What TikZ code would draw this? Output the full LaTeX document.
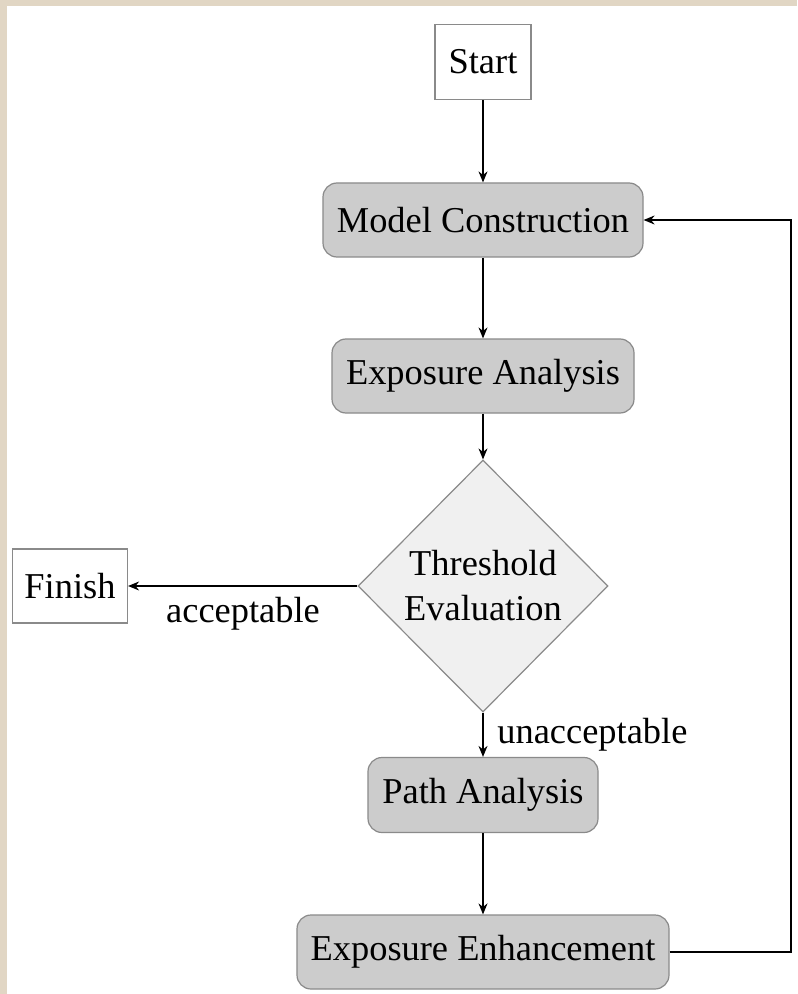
\documentclass[tikz,border=0pt]{standalone}
\usepackage{fontspec}
\setmainfont{Liberation Serif}
\usetikzlibrary{shapes.geometric,arrows.meta}
\definecolor{framebeige}{HTML}{E1D6C4}
\definecolor{procgray}{HTML}{CCCCCC}
\definecolor{decgray}{HTML}{F0F0F0}
\definecolor{edgegray}{HTML}{8A8A8A}
\begin{document}
\begin{tikzpicture}[x=0.5pt,y=-0.5pt,
  every node/.style={font=\fontsize{18.2}{22.5}\selectfont, inner sep=0pt},
  terminal/.style={draw=edgegray, fill=white, line width=0.6pt},
  process/.style={draw=edgegray, fill=procgray, rounded corners=7pt, line width=0.6pt},
  decision/.style={diamond, draw=edgegray, fill=decgray, line width=0.6pt, align=center},
  flow/.style={-{Stealth[length=5.5pt,width=4.5pt]}, line width=0.65pt}
]
% page frame
\fill[framebeige] (0,0) rectangle (797,994);
\fill[white] (7,6) rectangle (797,994);
\useasboundingbox (0,0) rectangle (797,994);

% nodes
\node[terminal, minimum width=48pt, minimum height=37.5pt] (start) at (483,62) {Start};
\node[process, minimum width=160pt, minimum height=37pt] (model) at (483,220) {Model Construction};
\node[process, minimum width=151pt, minimum height=37pt] (expo) at (483,376) {Exposure Analysis};
\node[decision, minimum width=125pt, minimum height=126pt] (thresh) at (483,586) {Threshold\\Evaluation};
\node[terminal, minimum width=57.5pt, minimum height=37pt] (finish) at (70,586) {Finish};
\node[process, minimum width=115pt, minimum height=37.5pt] (path) at (483,795) {Path Analysis};
\node[process, minimum width=186pt, minimum height=37pt] (enh) at (483,952) {Exposure Enhancement};
\coordinate (loopcorner) at (791,952);
\coordinate (looptop) at (791,220);

% connectors
\draw[flow] (start) -- (model);
\draw[flow] (model) -- (expo);
\draw[flow] (expo) -- (thresh);
\draw[flow] (thresh.west) -- (finish.east);
\draw[flow] (thresh.south) -- (path.north);
\draw[flow] (path) -- (enh);
\draw[flow] (enh.east) -- (loopcorner) -- (looptop) -- (model.east);

% edge labels
\node[anchor=base] (acc) at (243,622) {acceptable};
\node[anchor=base west] (unacc) at (497,743) {unacceptable};
\end{tikzpicture}
\end{document}
